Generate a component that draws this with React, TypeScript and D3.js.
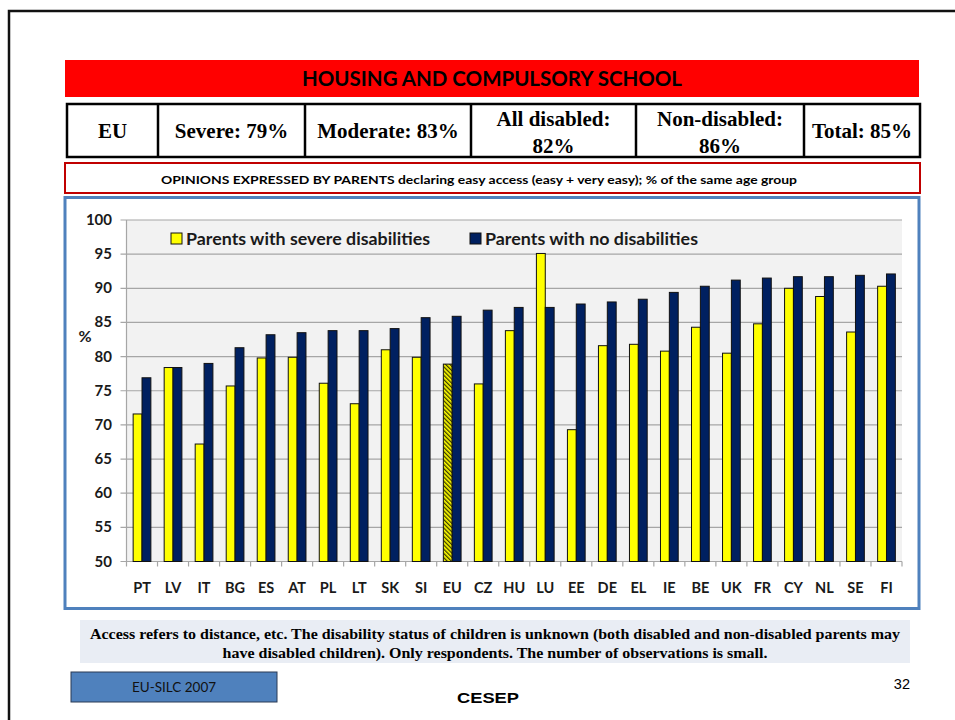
import { useEffect, useRef } from "react";
import * as d3 from "d3";

// values (EU-SILC 2007)
const countries = ["PT", "LV", "IT", "BG", "ES", "AT", "PL", "LT", "SK", "SI", "EU", "CZ", "HU", "LU", "EE", "DE", "EL", "IE", "BE", "UK", "FR", "CY", "NL", "SE", "FI"];
const severeValues = [71.6, 78.4, 67.2, 75.7, 79.8, 79.9, 76.1, 73.1, 81.0, 79.9, 78.9, 76.0, 83.8, 95.1, 69.3, 81.6, 81.8, 80.8, 84.3, 80.5, 84.8, 90.0, 88.8, 83.6, 90.3];
const noDisValues = [76.9, 78.4, 79.0, 81.3, 83.2, 83.5, 83.8, 83.8, 84.1, 85.7, 85.9, 86.8, 87.2, 87.2, 87.7, 88.0, 88.4, 89.4, 90.3, 91.2, 91.5, 91.7, 91.7, 91.9, 92.1];
const seriesNames = ["Parents with severe disabilities", "Parents with no disabilities"];
const yTicks = [50, 55, 60, 65, 70, 75, 80, 85, 90, 95, 100];

const summaryCells = [["EU"], ["Severe: 79%"], ["Moderate: 83%"], ["All disabled:", "82%"], ["Non-disabled:", "86%"], ["Total: 85%"]];
const noteLines = [
  "Access refers to distance, etc. The disability status of children is unknown (both disabled and non-disabled parents may",
  "have disabled children). Only respondents. The number of observations is small.",
];

const YELLOW = "#FFFF00";
const NAVY = "#002060";
const SANS = "Lato, 'Open Sans', sans-serif";
const SERIF = "'Liberation Serif', 'DejaVu Serif', serif";
const ARIAL = "'Liberation Sans', Arial, sans-serif";

export default function App() {
  const ref = useRef<SVGSVGElement>(null);

  useEffect(() => {
    const svg = d3.select(ref.current);
    svg.selectAll("*").remove();

    const defs = svg.append("defs");
    const pat = defs
      .append("pattern")
      .attr("id", "hatch")
      .attr("patternUnits", "userSpaceOnUse")
      .attr("width", 3)
      .attr("height", 3)
      .attr("patternTransform", "rotate(-45)");
    pat.append("rect").attr("width", 3).attr("height", 3).attr("fill", YELLOW);
    pat.append("rect").attr("width", 1.3).attr("height", 3).attr("fill", "#3a3a00");

    // slide frame
    svg
      .append("path")
      .attr("d", "M9,720 V11 H955")
      .attr("fill", "none")
      .attr("stroke", "#111")
      .attr("stroke-width", 2.5);

    // title bar
    svg.append("rect").attr("x", 65).attr("y", 60).attr("width", 854).attr("height", 37).attr("fill", "#FF0000");
    svg
      .append("text")
      .attr("x", 492)
      .attr("y", 86)
      .attr("text-anchor", "middle")
      .style("font-family", SANS)
      .style("font-weight", "bold")
      .style("font-size", "20px")
      .attr("textLength", 380)
      .attr("lengthAdjust", "spacingAndGlyphs")
      .text("HOUSING AND COMPULSORY SCHOOL");

    // summary table
    const colX = [67, 158, 305, 471, 636, 804, 920];
    const tTop = 104;
    const tBot = 157;
    svg
      .append("rect")
      .attr("x", colX[0])
      .attr("y", tTop)
      .attr("width", colX[6] - colX[0])
      .attr("height", tBot - tTop)
      .attr("fill", "white")
      .attr("stroke", "black")
      .attr("stroke-width", 2.5);
    colX.slice(1, 6).forEach((x) => {
      svg.append("line").attr("x1", x).attr("x2", x).attr("y1", tTop).attr("y2", tBot).attr("stroke", "black").attr("stroke-width", 2.5);
    });
    summaryCells.forEach((lines, i) => {
      const cx = (colX[i] + colX[i + 1]) / 2;
      const t = svg
        .append("text")
        .attr("text-anchor", "middle")
        .style("font-family", SERIF)
        .style("font-weight", "bold")
        .style("font-size", "21px");
      if (lines.length === 1) {
        t.append("tspan").attr("x", cx).attr("y", 138).text(lines[0]);
      } else {
        t.append("tspan").attr("x", cx).attr("y", 126).text(lines[0]);
        t.append("tspan").attr("x", cx).attr("y", 153).text(lines[1]);
      }
    });

    // subtitle box
    svg
      .append("rect")
      .attr("x", 65)
      .attr("y", 163)
      .attr("width", 855)
      .attr("height", 30)
      .attr("fill", "white")
      .attr("stroke", "#C00000")
      .attr("stroke-width", 2);
    svg
      .append("text")
      .attr("x", 479)
      .attr("y", 184)
      .attr("text-anchor", "middle")
      .style("font-family", SANS)
      .style("font-weight", "bold")
      .style("font-size", "12px")
      .attr("textLength", 636)
      .attr("lengthAdjust", "spacingAndGlyphs")
      .text("OPINIONS EXPRESSED BY PARENTS declaring easy access (easy + very easy); % of the same age group");

    // chart box
    svg
      .append("rect")
      .attr("x", 65)
      .attr("y", 197.5)
      .attr("width", 854)
      .attr("height", 411)
      .attr("fill", "white")
      .attr("stroke", "#4F81BD")
      .attr("stroke-width", 3);

    const left = 126.5;
    const right = 902;
    const top = 220;
    const bottom = 561.5;

    const y = d3.scaleLinear().domain([50, 100]).range([bottom, top]);
    const x0 = d3.scaleBand<string>().domain(countries).range([left, right]).padding(0);
    const x1 = d3
      .scaleBand<number>()
      .domain([0, 1])
      .range([0, x0.bandwidth()])
      .paddingInner(0)
      .paddingOuter(0.75);

    svg.append("rect").attr("x", left).attr("y", top).attr("width", right - left).attr("height", bottom - top).attr("fill", "#F2F2F2");

    // gridlines + y labels
    yTicks.forEach((v) => {
      svg
        .append("line")
        .attr("x1", left - 6)
        .attr("x2", right)
        .attr("y1", y(v))
        .attr("y2", y(v))
        .attr("stroke", "#A6A6A6")
        .attr("stroke-width", 1.2);
      svg
        .append("text")
        .attr("x", 112)
        .attr("y", y(v) + 5)
        .attr("text-anchor", "end")
        .style("font-family", SANS)
        .style("font-weight", "bold")
        .style("font-size", "15px")
        .style("fill", "#1a1a1a")
        .text(v);
    });
    svg.append("line").attr("x1", left).attr("x2", left).attr("y1", top).attr("y2", bottom).attr("stroke", "#A6A6A6").attr("stroke-width", 1.2);

    svg
      .append("text")
      .attr("x", 85)
      .attr("y", 342)
      .attr("text-anchor", "middle")
      .style("font-family", SANS)
      .style("font-weight", "bold")
      .style("font-size", "16px")
      .style("fill", "#1a1a1a")
      .text("%");

    // category ticks at band edges
    countries.forEach((c, i) => {
      const bx = x0(c) as number;
      svg.append("line").attr("x1", bx).attr("x2", bx).attr("y1", bottom).attr("y2", bottom + 5).attr("stroke", "#A6A6A6").attr("stroke-width", 1.2);
      if (i === countries.length - 1) {
        svg.append("line").attr("x1", bx + x0.bandwidth()).attr("x2", bx + x0.bandwidth()).attr("y1", bottom).attr("y2", bottom + 5).attr("stroke", "#A6A6A6").attr("stroke-width", 1.2);
      }
      svg
        .append("text")
        .attr("x", bx + x0.bandwidth() / 2)
        .attr("y", 593)
        .attr("text-anchor", "middle")
        .style("font-family", SANS)
        .style("font-weight", "bold")
        .style("font-size", "14.5px")
        .style("fill", "#1a1a1a")
        .text(c);
    });

    // bars
    const groups = svg
      .append("g")
      .selectAll("g")
      .data(countries)
      .enter()
      .append("g")
      .attr("transform", (c) => `translate(${x0(c)},0)`);

    groups
      .append("rect")
      .attr("x", x1(0) as number)
      .attr("y", (_, i) => y(severeValues[i]))
      .attr("width", x1.bandwidth())
      .attr("height", (_, i) => bottom - y(severeValues[i]))
      .attr("fill", (c) => (c === "EU" ? "url(#hatch)" : YELLOW))
      .attr("stroke", "#111")
      .attr("stroke-width", 1);

    groups
      .append("rect")
      .attr("x", x1(1) as number)
      .attr("y", (_, i) => y(noDisValues[i]))
      .attr("width", x1.bandwidth())
      .attr("height", (_, i) => bottom - y(noDisValues[i]))
      .attr("fill", NAVY)
      .attr("stroke", "#111")
      .attr("stroke-width", 1);

    // legend
    const legendX = [171, 470];
    const legendLen = [244, 213];
    const legendColors = [YELLOW, NAVY];
    seriesNames.forEach((name, i) => {
      svg
        .append("rect")
        .attr("x", legendX[i])
        .attr("y", 233)
        .attr("width", 11)
        .attr("height", 11)
        .attr("fill", legendColors[i])
        .attr("stroke", "#111")
        .attr("stroke-width", 1);
      svg
        .append("text")
        .attr("x", legendX[i] + 15)
        .attr("y", 245)
        .style("font-family", SANS)
        .style("font-weight", "bold")
        .style("font-size", "17px")
        .style("fill", "#1a1a1a")
        .attr("textLength", legendLen[i])
        .attr("lengthAdjust", "spacingAndGlyphs")
        .text(name);
    });

    // note box
    svg.append("rect").attr("x", 80).attr("y", 620).attr("width", 830).attr("height", 43).attr("fill", "#E9EDF4");
    const noteTexts = noteLines.map((line, i) =>
      svg
        .append("text")
        .attr("x", 495)
        .attr("y", 639 + i * 19)
        .attr("text-anchor", "middle")
        .style("font-family", SERIF)
        .style("font-weight", "bold")
        .style("font-size", "14px")
        .text(line)
    );
    const natural0 = (noteTexts[0].node() as SVGTextElement).getComputedTextLength();
    const stretch = natural0 > 0 ? 810 / natural0 : 1;
    noteTexts.forEach((t) => {
      const n = (t.node() as SVGTextElement).getComputedTextLength();
      t.attr("textLength", n * stretch).attr("lengthAdjust", "spacingAndGlyphs");
    });

    // footer
    svg
      .append("rect")
      .attr("x", 71)
      .attr("y", 672)
      .attr("width", 206)
      .attr("height", 30)
      .attr("fill", "#4F81BD")
      .attr("stroke", "#2a3a55")
      .attr("stroke-width", 1);
    svg
      .append("text")
      .attr("x", 174)
      .attr("y", 692)
      .attr("text-anchor", "middle")
      .style("font-family", SANS)
      .style("font-size", "13.5px")
      .style("fill", "#111")
      .text("EU-SILC 2007");
    svg
      .append("text")
      .attr("x", 488)
      .attr("y", 703)
      .attr("text-anchor", "middle")
      .style("font-family", ARIAL)
      .style("font-weight", "bold")
      .style("font-size", "15px")
      .attr("textLength", 62)
      .attr("lengthAdjust", "spacingAndGlyphs")
      .text("CESEP");
    svg
      .append("text")
      .attr("x", 910)
      .attr("y", 689)
      .attr("text-anchor", "end")
      .style("font-family", ARIAL)
      .style("font-size", "14.5px")
      .text("32");
  }, []);

  return (
    <svg
      ref={ref}
      width={955}
      height={720}
      style={{ position: "absolute", left: 0, top: 0, background: "white" }}
    ></svg>
  );
}
